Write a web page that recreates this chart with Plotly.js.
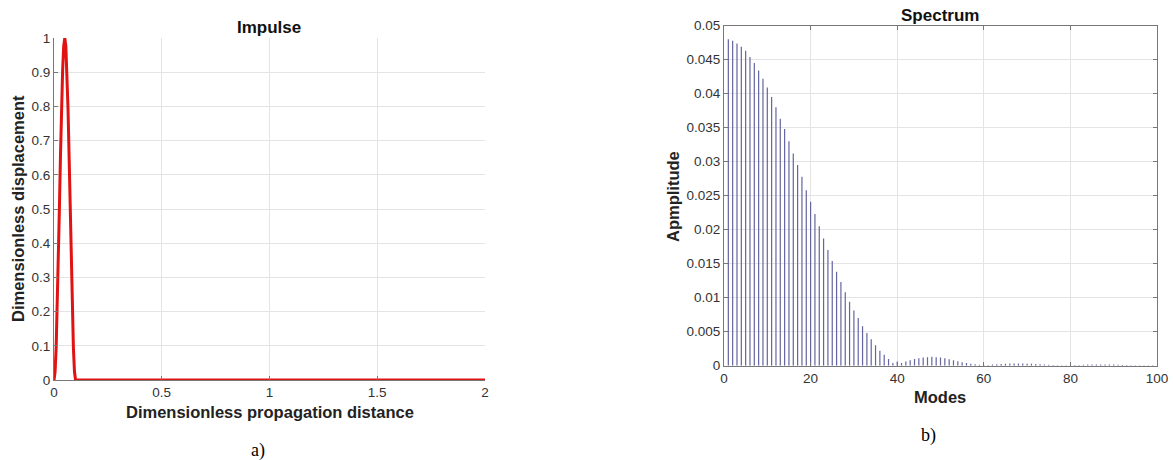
<!DOCTYPE html>
<html>
<head>
<meta charset="utf-8">
<script src="https://cdn.plot.ly/plotly-3.0.1.min.js"></script>
<style>
html,body{margin:0;padding:0;background:#fff;}
#chart{width:1173px;height:460px;}
</style>
</head>
<body>
<div id="chart"></div>
<script>
// ---- Impulse (panel a) ----
var impulseX = [0, 0.005, 0.01, 0.015, 0.02, 0.025, 0.03, 0.035, 0.04, 0.045, 0.05,
                0.055, 0.06, 0.065, 0.07, 0.075, 0.08, 0.085, 0.09, 0.095, 0.1, 2];
var impulseY = [0, 0.024, 0.095, 0.206, 0.345, 0.5, 0.655, 0.794, 0.905, 0.976, 1,
                0.976, 0.905, 0.794, 0.655, 0.5, 0.345, 0.206, 0.095, 0.024, 0, 0];

// ---- Spectrum (panel b) ----
var modes = [];
for (var m = 1; m <= 99; m++) modes.push(m);
var amplitude = [
  0.0480, 0.0478, 0.0474, 0.0469, 0.0463, 0.0454, 0.0445, 0.0434, 0.0422, 0.0409,
  0.0395, 0.0380, 0.0363, 0.0348, 0.0330, 0.0312, 0.0295, 0.0278, 0.0258, 0.0241,
  0.0223, 0.0205, 0.0187, 0.0170, 0.0154, 0.0138, 0.0123, 0.0108, 0.0094, 0.0081,
  0.0070, 0.0058, 0.0048, 0.0039, 0.0030, 0.0022, 0.0016, 0.0010, 0.0004, 0.0006,
  0.0004, 0.0006, 0.0008, 0.0010, 0.0011, 0.0012, 0.00125, 0.0013, 0.00125, 0.0012,
  0.0011, 0.00095, 0.0008, 0.00065, 0.0005, 0.0004, 0.0003, 0.0002, 0.00015, 0.0001,
  0.00012, 0.00018, 0.00022, 0.00026, 0.0003, 0.00032, 0.00034, 0.00034, 0.00033, 0.0003,
  0.00028, 0.00025, 0.00022, 0.00018, 0.00014, 0.0001, 0.00008, 0.00006, 0.00006, 0.00008,
  0.0001, 0.00012, 0.00014, 0.00016, 0.00017, 0.00018, 0.00018, 0.00018, 0.00017, 0.00016,
  0.00014, 0.00012, 0.0001, 0.00008, 0.00006, 0.00005, 0.00005, 0.00006, 0.00007
];

// ---- Tick labels ----
var aXTicks = [0, 0.5, 1, 1.5, 2];
var aXLabels = ['0', '0.5', '1', '1.5', '2'];
var aYTicks = [0, 0.1, 0.2, 0.3, 0.4, 0.5, 0.6, 0.7, 0.8, 0.9, 1];
var aYLabels = ['0', '0.1', '0.2', '0.3', '0.4', '0.5', '0.6', '0.7', '0.8', '0.9', '1'];
var bXTicks = [0, 20, 40, 60, 80, 100];
var bXLabels = ['0', '20', '40', '60', '80', '100'];
var bYTicks = [0, 0.005, 0.01, 0.015, 0.02, 0.025, 0.03, 0.035, 0.04, 0.045, 0.05];
var bYLabels = ['0', '0.005', '0.01', '0.015', '0.02', '0.025', '0.03', '0.035', '0.04', '0.045', '0.05'];

// stems built from the arrays
var stemX = [], stemY = [];
for (var i = 0; i < modes.length; i++) {
  stemX.push(modes[i], modes[i], null);
  stemY.push(0, amplitude[i], null);
}

var SANS = '"Liberation Sans", Arial, Helvetica, sans-serif';
var SERIF = '"Liberation Serif", "Times New Roman", serif';
var tickFont = {family: SANS, size: 13.5, color: '#333'};
var gridC = '#e4e4e4';
var axisC = '#777';

var traces = [
  {x: impulseX, y: impulseY, type: 'scatter', mode: 'lines',
   line: {color: 'rgb(224,18,18)', width: 3}, xaxis: 'x', yaxis: 'y', hoverinfo: 'skip'},
  {x: stemX, y: stemY, type: 'scatter', mode: 'lines',
   line: {color: 'rgb(100,100,160)', width: 1.2}, xaxis: 'x2', yaxis: 'y2', hoverinfo: 'skip'}
];

var W = 1173, H = 460;
function fx(px) { return px / W; }
function fy(py) { return 1 - py / H; }

var layout = {
  width: W, height: H,
  margin: {l: 0, r: 0, t: 0, b: 0},
  paper_bgcolor: '#fff', plot_bgcolor: '#fff',
  showlegend: false,
  xaxis: {
    domain: [fx(54), fx(485)], range: [0, 2], anchor: 'y',
    tickmode: 'array', tickvals: aXTicks, ticktext: aXLabels,
    ticks: 'inside', ticklen: 4, tickcolor: axisC,
    showline: true, linecolor: axisC, linewidth: 1,
    showgrid: true, gridcolor: gridC, zeroline: false,
    tickfont: tickFont
  },
  yaxis: {
    domain: [fy(380), fy(38)], range: [0, 1], anchor: 'x',
    tickmode: 'array', tickvals: aYTicks, ticktext: aYLabels,
    ticks: 'inside', ticklen: 4, tickcolor: axisC,
    showline: true, linecolor: axisC, linewidth: 1,
    showgrid: true, gridcolor: gridC, zeroline: false,
    tickfont: tickFont
  },
  xaxis2: {
    domain: [fx(724), fx(1157)], range: [0, 100], anchor: 'y2',
    tickmode: 'array', tickvals: bXTicks, ticktext: bXLabels,
    ticks: 'inside', ticklen: 4, tickcolor: axisC,
    showline: true, mirror: 'ticks', linecolor: axisC, linewidth: 1,
    showgrid: true, gridcolor: gridC, zeroline: false,
    tickfont: tickFont
  },
  yaxis2: {
    domain: [fy(365.7), fy(25.7)], range: [0, 0.05], anchor: 'x2',
    tickmode: 'array', tickvals: bYTicks, ticktext: bYLabels,
    ticks: 'inside', ticklen: 4, tickcolor: axisC,
    showline: true, mirror: 'ticks', linecolor: axisC, linewidth: 1,
    showgrid: true, gridcolor: gridC, zeroline: false,
    tickfont: tickFont
  },
  annotations: [
    {text: '<b>Impulse</b>', x: fx(269), y: fy(28), xref: 'paper', yref: 'paper',
     xanchor: 'center', yanchor: 'middle', showarrow: false,
     font: {family: SANS, size: 17, color: '#111'}},
    {text: '<b>Spectrum</b>', x: fx(940), y: fy(15), xref: 'paper', yref: 'paper',
     xanchor: 'center', yanchor: 'middle', showarrow: false,
     font: {family: SANS, size: 17, color: '#111'}},
    {text: '<b>Dimensionless propagation distance</b>', x: fx(270), y: fy(412), xref: 'paper', yref: 'paper',
     xanchor: 'center', yanchor: 'middle', showarrow: false,
     font: {family: SANS, size: 16.5, color: '#222'}},
    {text: '<b>Dimensionless displacement</b>', x: fx(18), y: fy(209), xref: 'paper', yref: 'paper',
     xanchor: 'center', yanchor: 'middle', showarrow: false, textangle: -90,
     font: {family: SANS, size: 16.5, color: '#222'}},
    {text: '<b>Modes</b>', x: fx(940), y: fy(397), xref: 'paper', yref: 'paper',
     xanchor: 'center', yanchor: 'middle', showarrow: false,
     font: {family: SANS, size: 16.5, color: '#222'}},
    {text: '<b>Apmplitude</b>', x: fx(673), y: fy(197), xref: 'paper', yref: 'paper',
     xanchor: 'center', yanchor: 'middle', showarrow: false, textangle: -90,
     font: {family: SANS, size: 16.5, color: '#222'}},
    {text: 'a)', x: fx(258), y: fy(450), xref: 'paper', yref: 'paper',
     xanchor: 'center', yanchor: 'middle', showarrow: false,
     font: {family: SERIF, size: 18, color: '#000'}},
    {text: 'b)', x: fx(928), y: fy(435), xref: 'paper', yref: 'paper',
     xanchor: 'center', yanchor: 'middle', showarrow: false,
     font: {family: SERIF, size: 18, color: '#000'}}
  ]
};

Plotly.newPlot('chart', traces, layout, {displayModeBar: false, staticPlot: true});
</script>
</body>
</html>
